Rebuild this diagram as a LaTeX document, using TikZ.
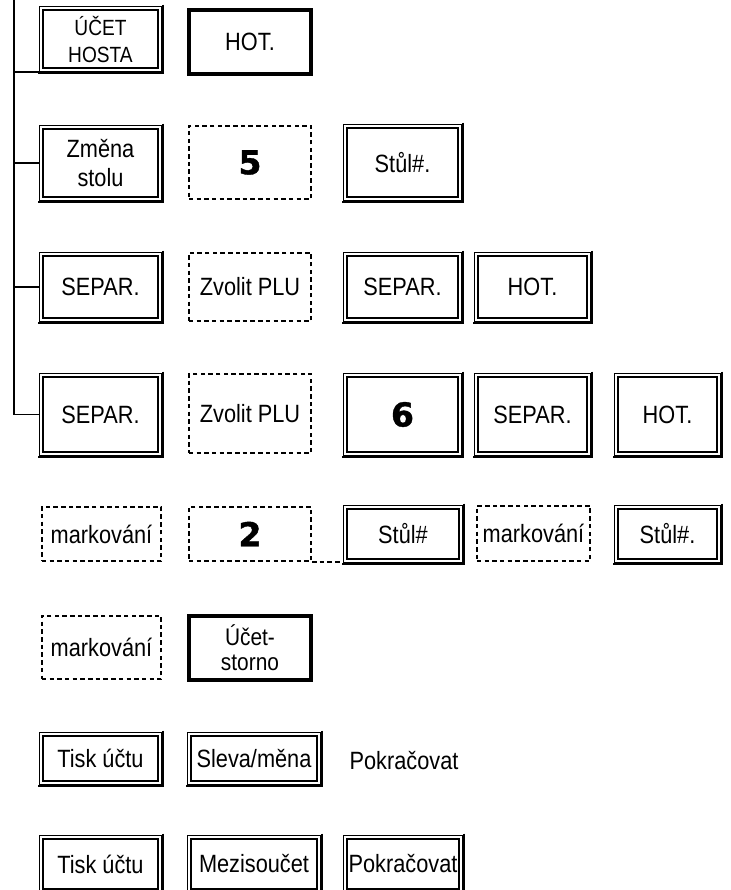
\documentclass[tikz,border=0pt]{standalone}
\usepackage{fontspec}
\setmainfont{Liberation Sans}[FakeStretch=0.87]
\newfontfamily\digitfont{DejaVu Sans Bold}[FakeBold=1.2]
\begin{document}
\begin{tikzpicture}[x=1pt,y=-1pt,
  box at/.style n args={4}{at={({(#1+#3)/2},{(#2+#4)/2})},
    minimum width={((#3)-(#1))*1pt}, minimum height={((#4)-(#2))*1pt}},
  lbl/.style={font=\fontsize{25}{29}\selectfont, align=center, inner sep=0pt, text=black},
  keybox/.style n args={4}{lbl, draw, line width=1.4pt, double, double distance=1.8pt,
    outer sep=2.3pt, box at={#1+2.3}{#2+2.3}{#3-4.3}{#4-4.3}},
  dashbox/.style n args={4}{lbl, draw, line width=1.6pt, dash pattern=on 4.5pt off 3.2pt,
    outer sep=0.8pt, box at={#1+0.8}{#2+0.8}{#3-0.8}{#4-0.8}},
  thickbox/.style n args={4}{lbl, draw, line width=3.8pt,
    outer sep=1.9pt, box at={#1+1.9}{#2+1.9}{#3-1.9}{#4-1.9}},
  digit/.style={font=\digitfont\fontsize{33}{33}\selectfont},
  keyshade/.style={draw, line width=2pt},
  conn/.style={draw, line width=1.8pt},
  dconn/.style={draw, line width=1.6pt, dash pattern=on 4.5pt off 3.2pt},
]
\useasboundingbox (0,0) rectangle (730,890);
\clip (0,0) rectangle (730,890);

% row 1
\node[keybox={39}{6}{164}{74}, font=\fontsize{22}{27}\selectfont] (ucet) {ÚČET\\HOSTA};
\node[thickbox={187}{8}{313}{76}] (hot1) {HOT.};
% row 2
\node[keybox={39}{125}{164}{203}] (zmena) {Změna\\stolu};
\node[dashbox={188}{125}{312}{200}, digit] (five) {5};
\node[keybox={343}{124}{464}{203}] (stul0) {Stůl\#.};
% row 3
\node[keybox={39}{252}{164}{324}] (sep1) {SEPAR.};
\node[dashbox={188}{252}{312}{322}] (plu1) {Zvolit PLU};
\node[keybox={343}{252}{464}{324}] (sep2) {SEPAR.};
\node[keybox={474}{252}{593}{324}] (hot2) {HOT.};
% row 4
\node[keybox={39}{373}{164}{458}] (sep3) {SEPAR.};
\node[dashbox={188}{373}{312}{454}] (plu2) {Zvolit PLU};
\node[keybox={343}{373}{464}{458}, digit] (six) {6};
\node[keybox={474}{373}{593}{458}] (sep4) {SEPAR.};
\node[keybox={614}{373}{723}{458}] (hot3) {HOT.};
% row 5
\node[dashbox={41}{506}{162}{562}] (mark1) {markování};
\node[dashbox={188}{506}{312}{562}, digit] (two) {2};
\node[keybox={343}{505}{465}{565}] (stul1) {Stůl\#};
\node[dashbox={476}{505}{591}{562}] (mark2) {markování};
\node[keybox={614}{505}{723}{565}] (stul2) {Stůl\#.};
% row 6
\node[dashbox={41}{615}{162}{680}] (mark3) {markování};
\node[thickbox={187}{614}{313}{682}, font=\fontsize{24}{25}\selectfont] (storno) {Účet-\\storno};
% row 7
\node[keybox={39}{732}{164}{787}] (tisk1) {Tisk účtu};
\node[keybox={187}{732}{323}{787}] (sleva) {Sleva/měna};
\node[lbl] (pok1) at (404,761) {Pokračovat};
% row 8
\node[keybox={39}{835}{164}{895}] (tisk2) {Tisk účtu};
\node[keybox={187}{835}{323}{895}] (mezi) {Mezisoučet};
\node[keybox={343}{835}{465}{895}] (pok2) {Pokračovat};

% heavier right and bottom edges of the keys
\foreach \n in {ucet,zmena,stul0,sep1,sep2,hot2,sep3,six,sep4,hot3,stul1,stul2,tisk1,sleva,tisk2,mezi,pok2}
  \draw[keyshade] ([xshift=1pt,yshift=1.4pt]\n.north east) -- ([xshift=1pt,yshift=-1pt]\n.south east) -- ([xshift=-1.4pt,yshift=-1pt]\n.south west);

% trunk and branches
\coordinate (trunk) at (14,-2);
\draw[conn] (trunk) -- (trunk |- sep3.west) -- (sep3.west);
\draw[conn] (trunk |- ucet.south west) -- (ucet.south west);
\draw[conn] (trunk |- zmena.west) -- (zmena.west);
\draw[conn] (trunk |- sep1.west) -- (sep1.west);

% dashed link below
\draw[dconn] (two.south east) -- (two.south east -| stul1.south west);
\end{tikzpicture}
\end{document}
